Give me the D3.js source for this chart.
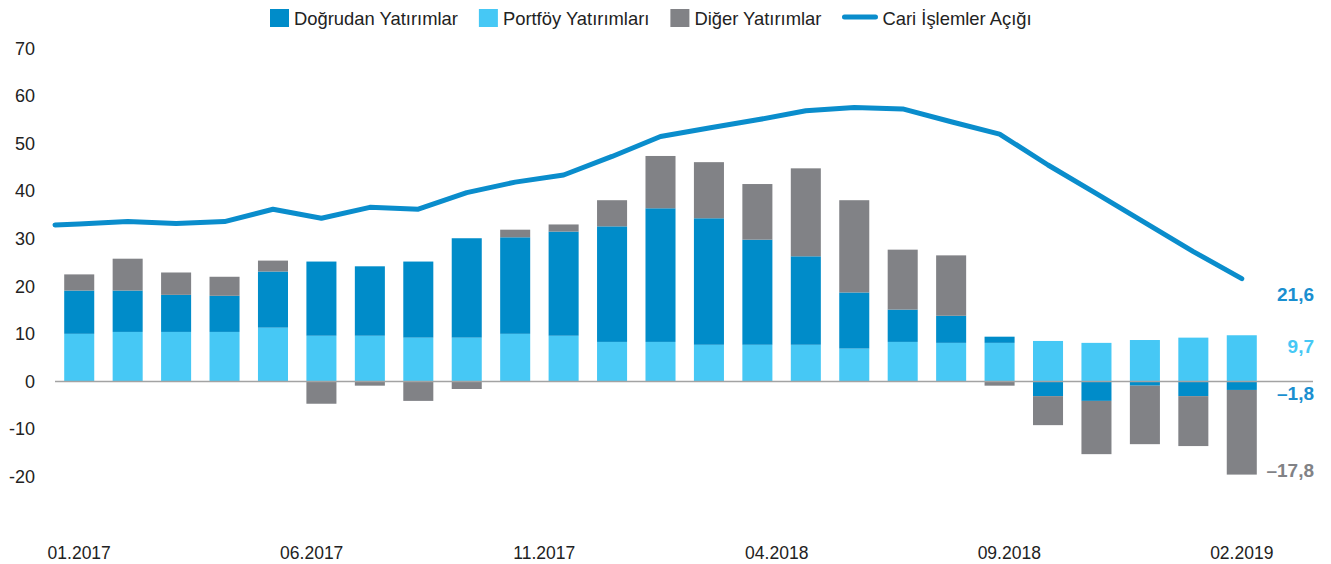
<!DOCTYPE html>
<html>
<head>
<meta charset="utf-8">
<script src="https://cdnjs.cloudflare.com/ajax/libs/d3/7.8.5/d3.min.js"></script>
<style>
  body { margin: 0; background: #fff; }
  svg text { font-family: "Liberation Sans", Arial, sans-serif; }
</style>
</head>
<body>
<div id="chart"></div>
<script>
let width = 1331;
let height = 564;

// bars: 02.2017 .. 02.2019
const months = ["02.2017","03.2017","04.2017","05.2017","06.2017","07.2017","08.2017","09.2017","10.2017","11.2017","12.2017",
                "01.2018","02.2018","03.2018","04.2018","05.2018","06.2018","07.2018","08.2018","09.2018","10.2018","11.2018","12.2018",
                "01.2019","02.2019"];
const tickLabels = ["01.2017","06.2017","11.2017","04.2018","09.2018","02.2019"];
const yTicks = [-20,-10,0,10,20,30,40,50,60,70];

const portfoy  = [10.0,10.4,10.4,10.4,11.3,9.6,9.6,9.2,9.2,10.0,9.6,8.3,8.3,7.7,7.7,7.7,6.9,8.3,8.1,8.1,8.5,8.1,8.7,9.2,9.7];
const dogrudan = [9.1,8.7,7.8,7.6,11.8,15.6,14.6,16.0,20.9,20.3,21.9,24.3,28.1,26.6,22.1,18.6,11.8,6.8,5.7,1.3,-3.1,-4.1,-0.9,-3.1,-1.8];
const diger    = [3.4,6.7,4.7,4.0,2.3,-4.7,-0.9,-4.1,-1.6,1.6,1.5,5.5,11.0,11.8,11.7,18.5,19.4,12.6,12.7,-0.9,-6.1,-11.2,-12.3,-10.5,-17.8];
// line starts one month earlier (01.2017), drawn at the left edge
const cariMonths = ["01.2017"].concat(months);
const cari = [32.9,33.1,33.6,33.2,33.6,36.2,34.3,36.6,36.2,39.7,41.9,43.4,47.3,51.5,53.3,55.0,56.9,57.6,57.3,54.6,52.0,45.5,39.5,33.4,27.3,21.6];

const legendNames = ["Doğrudan Yatırımlar","Portföy Yatırımları","Diğer Yatırımlar","Cari İşlemler Açığı"];
const colors = {dogrudan:"#008cc9", portfoy:"#46c8f5", diger:"#818286", cari:"#0a8dcc"};

let svg = d3.select("#chart").append("svg")
            .attr("width",width)
            .attr("height",height);

let x = d3.scaleBand().domain(months).range([55,1266]).paddingInner(0.38).paddingOuter(0.19);
let y = d3.scaleLinear().domain([-20,70]).range([476.5,48.5]);
let bw = x.bandwidth();

// stacked data
let rows = months.map((m,i) => ({month:m, portfoy:portfoy[i], dogrudan:dogrudan[i], diger:diger[i]}));
let keys = ["portfoy","dogrudan","diger"];
let series = d3.stack().keys(keys).offset(d3.stackOffsetDiverging)(rows);

svg.append("g").selectAll("g")
   .data(series).join("g")
   .attr("fill",d => colors[d.key])
   .selectAll("rect")
   .data(d => d).join("rect")
   .attr("x",d => x(d.data.month))
   .attr("width",bw)
   .attr("y",d => y(Math.max(d[0],d[1])))
   .attr("height",d => Math.abs(y(d[0]) - y(d[1])));

// zero line
svg.append("line")
   .attr("x1",x.range()[0]).attr("x2",1313)
   .attr("y1",y(0)).attr("y2",y(0))
   .attr("stroke","#a3a3a3").attr("stroke-width",1.5);

// y labels
svg.append("g").selectAll("text")
   .data(yTicks).join("text")
   .attr("x",35).attr("y",d => y(d))
   .attr("dy","0.35em")
   .attr("text-anchor","end")
   .attr("font-size",18)
   .attr("fill","#222")
   .text(d => d);

// x labels, spread from first to last bar
let xl = d3.scalePoint().domain(tickLabels)
           .range([x(months[0]) + bw/2, x(months[months.length-1]) + bw/2]);
svg.append("g").selectAll("text")
   .data(tickLabels).join("text")
   .attr("x",d => xl(d)).attr("y",559)
   .attr("text-anchor","middle")
   .attr("font-size",17.5)
   .attr("fill","#222")
   .text(d => d);

// line
let lineX = (m,i) => i === 0 ? x.range()[0] : x(m) + bw/2;
let line = d3.line().x((d,i) => lineX(cariMonths[i],i)).y(d => y(d));
svg.append("path")
   .attr("d",line(cari))
   .attr("fill","none")
   .attr("stroke",colors.cari)
   .attr("stroke-width",5)
   .attr("stroke-linejoin","round")
   .attr("stroke-linecap","round");

// end labels
let last = months.length - 1;
let fmt = v => (v < 0 ? "–" : "") + Math.abs(v).toFixed(1).replace(".",",");
let endLabels = [
  {v:cari[cari.length-1], yv:y(cari[cari.length-1]) + 16, c:"#1a8fd0"},
  {v:portfoy[last], yv:y(portfoy[last]) + 11, c:"#46c8f5"},
  {v:dogrudan[last], yv:y(dogrudan[last]) + 3, c:"#1a8fd0"},
  {v:diger[last], yv:y(dogrudan[last] + diger[last]) - 4, c:"#818286"}
];
svg.append("g").selectAll("text")
   .data(endLabels).join("text")
   .attr("x",1314).attr("y",d => d.yv)
   .attr("dy","0.35em")
   .attr("text-anchor","end")
   .attr("font-size",19)
   .attr("font-weight","bold")
   .attr("fill",d => d.c)
   .text(d => fmt(d.v));

// legend
let leg = svg.append("g");
let lx = 270;
legendNames.forEach((name,i) => {
    let key = ["dogrudan","portfoy","diger","cari"][i];
    if(key === "cari"){
        leg.append("line").attr("x1",lx+2).attr("x2",lx+33).attr("y1",17).attr("y2",17)
           .attr("stroke",colors.cari).attr("stroke-width",5).attr("stroke-linecap","round");
        lx += 40;
    } else {
        leg.append("rect").attr("x",lx).attr("y",9).attr("width",19).attr("height",18).attr("fill",colors[key]);
        lx += 24;
    }
    let t = leg.append("text").attr("x",lx).attr("y",25)
               .attr("font-size",18.4).attr("fill","#222").text(name);
    lx += t.node().getComputedTextLength() + 21;
});
</script>
</body>
</html>
